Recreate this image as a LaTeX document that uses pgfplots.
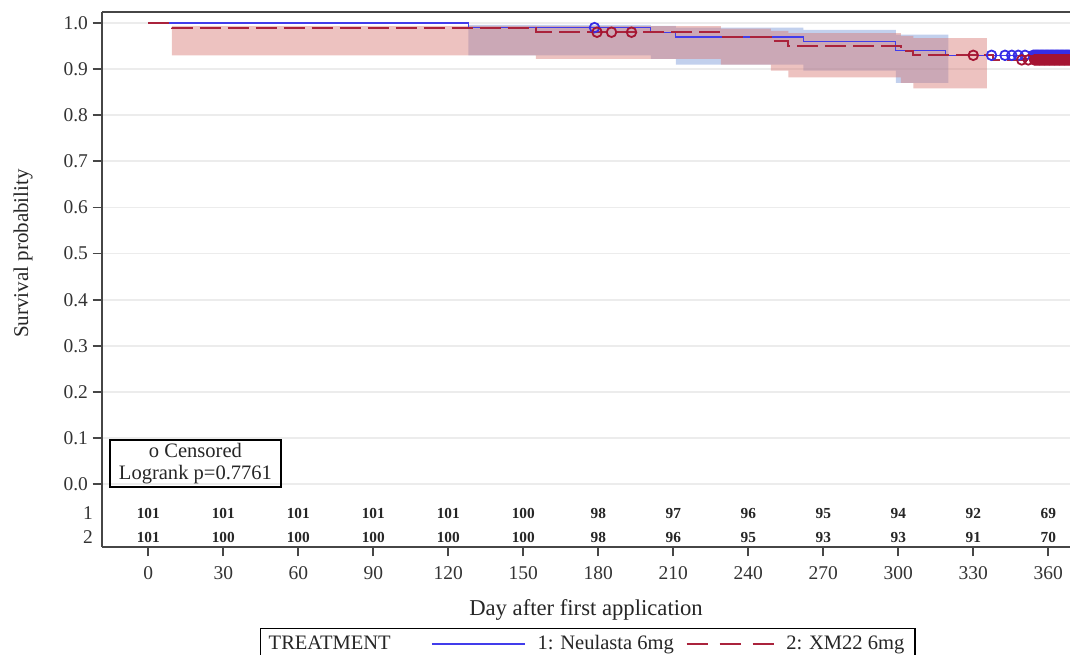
\documentclass[border=0pt]{standalone}
\usepackage{fontspec}
\setmainfont{Liberation Serif}
\usepackage{pgfplots}
\pgfplotsset{compat=1.18}
\usepackage{pgfplotstable}

\definecolor{kmblue}{RGB}{65,60,235}
\definecolor{kmred}{RGB}{170,35,60}
\definecolor{cblue}{RGB}{55,45,230}
\definecolor{cred}{RGB}{165,20,50}
\definecolor{bandblue}{RGB}{120,150,215}
\definecolor{bandred}{RGB}{215,120,115}
\definecolor{gridgray}{RGB}{236,236,236}
\definecolor{framegray}{RGB}{70,70,70}

% censored observations, arm 1
\pgfplotstableread{
day   s
178.5 0.99
337.3 0.93
342.7 0.93
345.4 0.93
348.0 0.93
350.7 0.93
354.0 0.93
354.5 0.93
355.0 0.93
355.5 0.93
356.0 0.93
356.5 0.93
357.0 0.93
357.5 0.93
358.0 0.93
358.5 0.93
359.0 0.93
359.5 0.93
360.0 0.93
360.5 0.93
361.0 0.93
361.5 0.93
362.0 0.93
362.5 0.93
363.0 0.93
363.5 0.93
364.0 0.93
364.5 0.93
365.0 0.93
365.5 0.93
366.0 0.93
366.5 0.93
367.0 0.93
367.5 0.93
368.0 0.93
368.5 0.93
}\censA

% censored observations, arm 2
\pgfplotstableread{
day   s
179.5 0.98
185.3 0.98
193.3 0.98
330.0 0.93
349.4 0.92
352.0 0.92
354.5 0.92
355.0 0.92
355.5 0.92
356.0 0.92
356.5 0.92
357.0 0.92
357.5 0.92
358.0 0.92
358.5 0.92
359.0 0.92
359.5 0.92
360.0 0.92
360.5 0.92
361.0 0.92
361.5 0.92
362.0 0.92
362.5 0.92
363.0 0.92
363.5 0.92
364.0 0.92
364.5 0.92
365.0 0.92
365.5 0.92
366.0 0.92
366.5 0.92
367.0 0.92
367.5 0.92
368.0 0.92
368.5 0.92
}\censB

\tikzset{risk/.style={anchor=center, font=\fontsize{11.5pt}{13pt}\selectfont\bfseries, text=black!85}}

\begin{document}
\begin{tikzpicture}
\begin{axis}[
  at={(76.5pt,80.25pt)}, anchor=south west,
  scale only axis, width=726pt, height=401.25pt,
  xmin=-18.5, xmax=368.7, ymin=-0.1363, ymax=1.0239,
  clip=false,
  axis lines=left,
  axis line style={-, framegray, line width=1.3pt},
  xtick={0,30,60,90,120,150,180,210,240,270,300,330,360},
  ytick={0,0.1,0.2,0.3,0.4,0.5,0.6,0.7,0.8,0.9,1.0},
  tick align=outside, major tick length=7pt,
  tick style={framegray, line width=1.3pt},
  ymajorgrids, grid style={gridgray, line width=1.3pt},
  /pgf/number format/assume math mode=true,
  y tick label style={/pgf/number format/.cd, fixed, fixed zerofill, precision=1},
  ticklabel style={font=\fontsize{14.6pt}{17pt}\selectfont, text=black!80},
  x tick label style={yshift=-4.5pt},
  xlabel={Day after first application},
  xlabel style={font=\fontsize{17pt}{20pt}\selectfont, text=black!85, yshift=-8pt},
  legend columns=-1,
  legend cell align=left,
  legend style={at={(axis description cs:0.1632,-0.1514)}, anchor=north west,
    draw=black, line width=1.1pt, inner xsep=6pt, inner ysep=3pt,
    font=\fontsize{15.4pt}{18pt}\selectfont, text=black!85,
    /tikz/column sep=6.8pt},
]
% confidence bands
\addplot[fill=bandblue, fill opacity=0.45, draw=none, forget plot] coordinates {
  (128,0.996) (201,0.996) (201,0.994) (211,0.994) (211,0.990) (262,0.990)
  (262,0.985) (299,0.985) (299,0.975) (320,0.975)
  (320,0.870) (299,0.870) (299,0.897) (262,0.897) (262,0.910) (211,0.910)
  (211,0.922) (201,0.922) (201,0.930) (128,0.930)};
\addplot[fill=bandred, fill opacity=0.45, draw=none, forget plot] coordinates {
  (9.4,0.994) (155,0.994) (155,0.993) (229,0.993) (229,0.988) (249,0.988)
  (249,0.983) (256,0.983) (256,0.978) (301,0.978) (301,0.972) (306,0.972)
  (306,0.967) (335.4,0.967)
  (335.4,0.858) (306,0.858) (306,0.870) (301,0.870) (301,0.882) (256,0.882)
  (256,0.897) (249,0.897) (249,0.910) (229,0.910) (229,0.922) (155,0.922)
  (155,0.930) (9.4,0.930)};

% Kaplan-Meier estimates
\addplot[const plot, kmblue, line width=1.1pt, forget plot] coordinates
  {(0,1.0) (128,0.990) (201,0.980) (211,0.970) (262,0.960) (299,0.940) (319,0.930) (368.7,0.930)};
\addplot[const plot, kmred, line width=1.5pt, dash pattern=on 15.75pt off 5.25pt, forget plot] coordinates
  {(0,1.0) (9.4,0.990) (155,0.980) (229,0.970) (249,0.960) (256,0.950) (301,0.940) (306,0.930) (338,0.920) (368.7,0.920)};

% censoring marks
\addplot[only marks, mark=o, mark size=3.6pt, cblue, mark options={line width=1.35pt}, forget plot]
  table[x=day, y=s] {\censA};
\addplot[only marks, mark=o, mark size=3.6pt, cred, mark options={line width=1.35pt}, forget plot]
  table[x=day, y=s] {\censB};

% numbers at risk
\node[risk] at (axis cs:0,-0.0632) {101};   \node[risk] at (axis cs:0,-0.1153) {101};
\node[risk] at (axis cs:30,-0.0632) {101};  \node[risk] at (axis cs:30,-0.1153) {100};
\node[risk] at (axis cs:60,-0.0632) {101};  \node[risk] at (axis cs:60,-0.1153) {100};
\node[risk] at (axis cs:90,-0.0632) {101};  \node[risk] at (axis cs:90,-0.1153) {100};
\node[risk] at (axis cs:120,-0.0632) {101}; \node[risk] at (axis cs:120,-0.1153) {100};
\node[risk] at (axis cs:150,-0.0632) {100}; \node[risk] at (axis cs:150,-0.1153) {100};
\node[risk] at (axis cs:180,-0.0632) {98};  \node[risk] at (axis cs:180,-0.1153) {98};
\node[risk] at (axis cs:210,-0.0632) {97};  \node[risk] at (axis cs:210,-0.1153) {96};
\node[risk] at (axis cs:240,-0.0632) {96};  \node[risk] at (axis cs:240,-0.1153) {95};
\node[risk] at (axis cs:270,-0.0632) {95};  \node[risk] at (axis cs:270,-0.1153) {93};
\node[risk] at (axis cs:300,-0.0632) {94};  \node[risk] at (axis cs:300,-0.1153) {93};
\node[risk] at (axis cs:330,-0.0632) {92};  \node[risk] at (axis cs:330,-0.1153) {91};
\node[risk] at (axis cs:360,-0.0632) {69};  \node[risk] at (axis cs:360,-0.1153) {70};
\node[anchor=east, font=\fontsize{14.6pt}{17pt}\selectfont, text=black!80] at (axis cs:-20.3,-0.0632) {1};
\node[anchor=east, font=\fontsize{14.6pt}{17pt}\selectfont, text=black!80] at (axis cs:-20.3,-0.1153) {2};

% top frame line
\draw[framegray, line width=1.3pt] (rel axis cs:0,1) -- (rel axis cs:1,1);

% legend
\addlegendimage{legend image code/.code={\node[anchor=west, inner sep=0pt, text width=104pt] at (0pt,0pt) {TREATMENT};}}
\addlegendentry{}
\addlegendimage{legend image code/.code={\draw[draw=kmblue, line width=1.5pt] (0pt,0pt) -- (69.75pt,0pt);}}
\addlegendentry{1: Neulasta 6mg}
\addlegendimage{legend image code/.code={\draw[draw=kmred, line width=1.5pt, dash pattern=on 15.75pt off 9pt] (0pt,0pt) -- (65.25pt,0pt);}}
\addlegendentry{2: XM22 6mg}
\end{axis}

\node[rotate=90, font=\fontsize{15.75pt}{18pt}\selectfont, text=black!85] at (17.25pt,300.3pt) {Survival probability};
\node[draw=black, line width=1.1pt, minimum width=128.25pt, minimum height=35.25pt, align=center,
  inner sep=0pt, font=\fontsize{15.4pt}{16.1pt}\selectfont, text=black!85] at (146.6pt,142.9pt)
  {o Censored\\Logrank p=0.7761};
\pgfresetboundingbox
\path[use as bounding box] (0,0) rectangle (802.5pt,490.5pt);
\end{tikzpicture}
\end{document}
